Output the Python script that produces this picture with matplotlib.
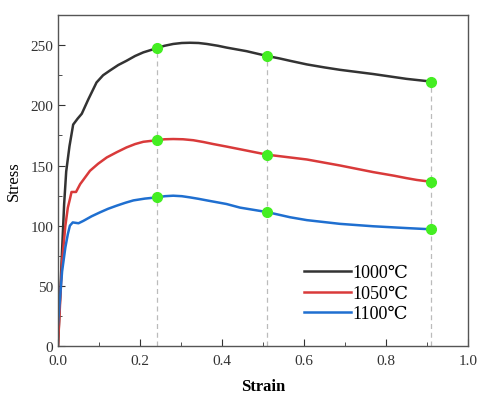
import numpy as np
import matplotlib.pyplot as plt
from matplotlib.ticker import MultipleLocator, FormatStrFormatter

# strain / stress readings (estimated from the figure)
strain_1000 = [0, 0.005, 0.01, 0.015, 0.02, 0.028, 0.037, 0.048, 0.058, 0.074, 0.094, 0.11,
               0.127, 0.147, 0.167, 0.188, 0.208, 0.241, 0.26, 0.281, 0.302, 0.322, 0.343,
               0.363, 0.39, 0.411, 0.46, 0.51, 0.54, 0.566, 0.607, 0.65, 0.688,
               0.769, 0.85, 0.909]
stress_1000 = [0, 40, 80, 118, 145, 166, 184, 189, 193, 205, 219, 225,
               229, 233.5, 237, 241, 244, 247.5, 249.5, 251, 251.8, 252, 251.8,
               251, 249.5, 248, 245, 241, 239, 237, 234, 231.5, 229.5,
               226, 222, 219.8]

strain_1050 = [0, 0.005, 0.01, 0.018, 0.024, 0.029, 0.033, 0.044, 0.054, 0.078, 0.098, 0.119,
               0.143, 0.167, 0.188, 0.208, 0.241, 0.26, 0.281, 0.305, 0.33, 0.355,
               0.379, 0.41, 0.444, 0.51, 0.607, 0.688, 0.769, 0.82, 0.85, 0.875, 0.909]
stress_1050 = [0, 35, 70, 100, 115, 122, 128, 128, 134.5, 145.6, 151.5, 156.7,
               161, 165, 167.8, 169.7, 171, 171.8, 172, 171.8, 171, 169.5,
               167.8, 165.8, 163.5, 159, 155, 150, 144.5, 141.5, 139.5, 138, 136.5]

strain_1100 = [0, 0.005, 0.01, 0.018, 0.024, 0.029, 0.036, 0.05, 0.062, 0.082, 0.102, 0.122,
               0.143, 0.164, 0.184, 0.212, 0.241, 0.261, 0.281, 0.302, 0.322, 0.343,
               0.363, 0.411, 0.444, 0.51, 0.566, 0.607, 0.688, 0.769, 0.85, 0.909]
stress_1100 = [18, 40, 62, 82, 93, 100, 102.7, 102, 104, 107.8, 111, 114,
               116.6, 119, 121, 122.5, 123.5, 124.5, 124.9, 124.5, 123.5, 122.3,
               121, 118, 115, 111.3, 107, 104.6, 101.5, 99.5, 98, 97]

# marked strains and the stress values at them
mark_strain = [0.241, 0.51, 0.909]
mark_1000 = [247.5, 241, 219.8]
mark_1050 = [171, 159, 136.5]
mark_1100 = [123.5, 111.3, 97]

labels = ['1000\u2103', '1050\u2103', '1100\u2103']
colors = ['#333333', '#d93a3a', '#1f6fd0']

plt.rcParams['font.family'] = ['Liberation Serif', 'DejaVu Serif']

fig = plt.figure(figsize=(4.89, 4.02), dpi=100)
ax = fig.add_axes([0.1186, 0.1368, 0.8384, 0.8232])

for xm, ym in zip(mark_strain, mark_1000):
    ax.plot([xm, xm], [0, ym], ls=(0, (4, 3)), color='#bbbbbb', lw=0.9, zorder=1)

series = [(strain_1000, stress_1000, mark_1000),
          (strain_1050, stress_1050, mark_1050),
          (strain_1100, stress_1100, mark_1100)]
for (xs, ys, ms), lab, c in zip(series, labels, colors):
    ax.plot(xs, ys, color=c, lw=1.8, label=lab, zorder=2)
    ax.plot(mark_strain, ms, 'o', color='#44ee22', ms=7, zorder=3)

ax.set_xlim(0, 1.0)
ax.set_ylim(0, 275)
ax.xaxis.set_major_locator(MultipleLocator(0.2))
ax.xaxis.set_minor_locator(MultipleLocator(0.1))
ax.xaxis.set_major_formatter(FormatStrFormatter('%.1f'))
ax.yaxis.set_major_locator(MultipleLocator(50))
ax.yaxis.set_minor_locator(MultipleLocator(25))
ax.tick_params(which='both', direction='in', labelsize=11, colors='#333333')
ax.tick_params(which='major', length=5)
ax.tick_params(which='minor', length=3)
ax.tick_params(axis='x', pad=6)
for s in ax.spines.values():
    s.set_color('#555555')
    s.set_linewidth(1.0)

ax.set_xlabel('Strain', fontsize=12, fontweight='bold', labelpad=8)
ax.set_ylabel('Stress', fontsize=12, labelpad=6)

ax.legend(loc='lower right', bbox_to_anchor=(0.895, 0.022), frameon=False, fontsize=13,
          handlelength=2.6, handletextpad=0.1, labelspacing=0.2)

fig.savefig('out.png', dpi=100)
